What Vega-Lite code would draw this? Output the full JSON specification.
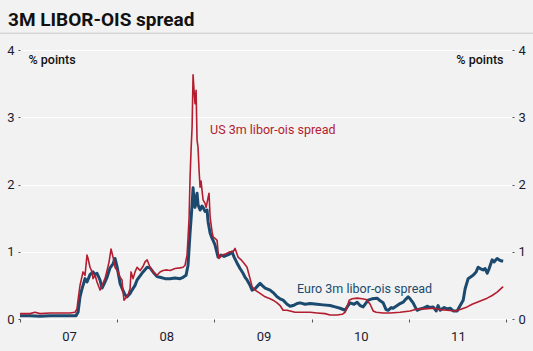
{
  "$schema": "https://vega.github.io/schema/vega-lite/v6.json",
  "width": 492,
  "height": 269,
  "autosize": {"type": "none"},
  "padding": {"left": 20, "top": 50, "right": 21, "bottom": 32},
  "background": "#f2f2f2",
  "config": {"view": {"stroke": null}, "font": "Roboto"},
  "title": {"text": "3M LIBOR-OIS spread", "anchor": "start", "frame": "group", "dx": -12, "offset": 3, "fontSize": 19, "font": "Roboto", "fontWeight": 700, "color": "#111111"},
  "datasets": {
    "euro": [
      {"t":2007.000,"v":0.05},{"t":2007.103,"v":0.05},{"t":2007.206,"v":0.04},{"t":2007.309,"v":0.05},{"t":2007.412,"v":0.05},{"t":2007.514,"v":0.05},{"t":2007.576,"v":0.05},{"t":2007.597,"v":0.1},{"t":2007.617,"v":0.33},{"t":2007.638,"v":0.45},{"t":2007.669,"v":0.6},{"t":2007.689,"v":0.55},{"t":2007.720,"v":0.66},{"t":2007.751,"v":0.7},{"t":2007.772,"v":0.66},{"t":2007.792,"v":0.68},{"t":2007.823,"v":0.58},{"t":2007.844,"v":0.46},{"t":2007.864,"v":0.52},{"t":2007.895,"v":0.62},{"t":2007.926,"v":0.76},{"t":2007.957,"v":0.82},{"t":2007.977,"v":0.9},{"t":2007.998,"v":0.78},
      {"t":2008.029,"v":0.53},{"t":2008.060,"v":0.42},{"t":2008.080,"v":0.36},{"t":2008.101,"v":0.33},{"t":2008.132,"v":0.38},{"t":2008.152,"v":0.43},{"t":2008.183,"v":0.5},{"t":2008.204,"v":0.58},{"t":2008.235,"v":0.64},{"t":2008.265,"v":0.7},{"t":2008.307,"v":0.77},{"t":2008.337,"v":0.76},{"t":2008.368,"v":0.7},{"t":2008.409,"v":0.63},{"t":2008.440,"v":0.62},{"t":2008.492,"v":0.6},{"t":2008.543,"v":0.6},{"t":2008.595,"v":0.61},{"t":2008.646,"v":0.6},{"t":2008.677,"v":0.62},{"t":2008.708,"v":0.65},{"t":2008.728,"v":0.8},{"t":2008.749,"v":1.28},{"t":2008.770,"v":1.7},{"t":2008.780,"v":1.95},{"t":2008.790,"v":1.75},{"t":2008.800,"v":1.66},{"t":2008.811,"v":1.8},{"t":2008.821,"v":1.87},{"t":2008.831,"v":1.7},{"t":2008.852,"v":1.62},{"t":2008.872,"v":1.68},{"t":2008.883,"v":1.66},{"t":2008.903,"v":1.6},{"t":2008.924,"v":1.62},{"t":2008.934,"v":1.45},{"t":2008.955,"v":1.28},{"t":2008.975,"v":1.2},{"t":2008.986,"v":1.17},
      {"t":2009.006,"v":1.1},{"t":2009.037,"v":0.92},{"t":2009.068,"v":0.95},{"t":2009.099,"v":0.93},{"t":2009.130,"v":0.95},{"t":2009.160,"v":0.97},{"t":2009.181,"v":1.0},{"t":2009.202,"v":0.92},{"t":2009.233,"v":0.83},{"t":2009.263,"v":0.75},{"t":2009.294,"v":0.68},{"t":2009.315,"v":0.62},{"t":2009.335,"v":0.58},{"t":2009.366,"v":0.5},{"t":2009.387,"v":0.43},{"t":2009.418,"v":0.45},{"t":2009.449,"v":0.5},{"t":2009.469,"v":0.53},{"t":2009.490,"v":0.5},{"t":2009.521,"v":0.46},{"t":2009.572,"v":0.43},{"t":2009.613,"v":0.38},{"t":2009.644,"v":0.33},{"t":2009.675,"v":0.3},{"t":2009.706,"v":0.28},{"t":2009.747,"v":0.22},{"t":2009.778,"v":0.19},{"t":2009.809,"v":0.2},{"t":2009.850,"v":0.23},{"t":2009.881,"v":0.24},{"t":2009.932,"v":0.22},{"t":2009.984,"v":0.23},
      {"t":2010.056,"v":0.22},{"t":2010.117,"v":0.21},{"t":2010.189,"v":0.2},{"t":2010.241,"v":0.18},{"t":2010.292,"v":0.16},{"t":2010.344,"v":0.13},{"t":2010.374,"v":0.2},{"t":2010.395,"v":0.24},{"t":2010.436,"v":0.22},{"t":2010.467,"v":0.25},{"t":2010.498,"v":0.2},{"t":2010.529,"v":0.18},{"t":2010.560,"v":0.24},{"t":2010.580,"v":0.28},{"t":2010.621,"v":0.3},{"t":2010.673,"v":0.31},{"t":2010.704,"v":0.27},{"t":2010.735,"v":0.24},{"t":2010.765,"v":0.14},{"t":2010.786,"v":0.13},{"t":2010.817,"v":0.17},{"t":2010.837,"v":0.16},{"t":2010.879,"v":0.2},{"t":2010.909,"v":0.23},{"t":2010.940,"v":0.25},{"t":2010.971,"v":0.3},{"t":2010.992,"v":0.33},
      {"t":2011.012,"v":0.3},{"t":2011.043,"v":0.24},{"t":2011.064,"v":0.18},{"t":2011.084,"v":0.13},{"t":2011.115,"v":0.15},{"t":2011.146,"v":0.16},{"t":2011.187,"v":0.19},{"t":2011.218,"v":0.17},{"t":2011.249,"v":0.18},{"t":2011.280,"v":0.12},{"t":2011.300,"v":0.2},{"t":2011.321,"v":0.13},{"t":2011.362,"v":0.17},{"t":2011.393,"v":0.15},{"t":2011.424,"v":0.16},{"t":2011.455,"v":0.12},{"t":2011.496,"v":0.12},{"t":2011.527,"v":0.2},{"t":2011.558,"v":0.28},{"t":2011.578,"v":0.45},{"t":2011.609,"v":0.6},{"t":2011.630,"v":0.62},{"t":2011.660,"v":0.65},{"t":2011.691,"v":0.7},{"t":2011.712,"v":0.77},{"t":2011.733,"v":0.75},{"t":2011.763,"v":0.73},{"t":2011.784,"v":0.75},{"t":2011.805,"v":0.68},{"t":2011.825,"v":0.75},{"t":2011.856,"v":0.88},{"t":2011.877,"v":0.85},{"t":2011.907,"v":0.9},{"t":2011.938,"v":0.87},{"t":2011.969,"v":0.86}
    ],
    "us": [
      {"t":2007.000,"v":0.08},{"t":2007.103,"v":0.08},{"t":2007.154,"v":0.1},{"t":2007.206,"v":0.08},{"t":2007.309,"v":0.09},{"t":2007.412,"v":0.09},{"t":2007.514,"v":0.09},{"t":2007.566,"v":0.1},{"t":2007.586,"v":0.15},{"t":2007.597,"v":0.28},{"t":2007.617,"v":0.5},{"t":2007.648,"v":0.7},{"t":2007.669,"v":0.65},{"t":2007.689,"v":0.95},{"t":2007.700,"v":0.9},{"t":2007.720,"v":0.77},{"t":2007.741,"v":0.7},{"t":2007.751,"v":0.6},{"t":2007.772,"v":0.65},{"t":2007.792,"v":0.55},{"t":2007.823,"v":0.43},{"t":2007.844,"v":0.5},{"t":2007.874,"v":0.6},{"t":2007.895,"v":0.72},{"t":2007.916,"v":0.85},{"t":2007.936,"v":1.04},{"t":2007.957,"v":0.92},{"t":2007.977,"v":0.77},
      {"t":2008.008,"v":0.7},{"t":2008.029,"v":0.62},{"t":2008.049,"v":0.58},{"t":2008.060,"v":0.4},{"t":2008.070,"v":0.28},{"t":2008.091,"v":0.32},{"t":2008.111,"v":0.36},{"t":2008.132,"v":0.45},{"t":2008.142,"v":0.7},{"t":2008.163,"v":0.6},{"t":2008.183,"v":0.7},{"t":2008.204,"v":0.77},{"t":2008.235,"v":0.72},{"t":2008.265,"v":0.78},{"t":2008.286,"v":0.85},{"t":2008.307,"v":0.88},{"t":2008.337,"v":0.77},{"t":2008.368,"v":0.7},{"t":2008.409,"v":0.65},{"t":2008.440,"v":0.7},{"t":2008.471,"v":0.72},{"t":2008.512,"v":0.73},{"t":2008.543,"v":0.72},{"t":2008.595,"v":0.75},{"t":2008.646,"v":0.76},{"t":2008.677,"v":0.77},{"t":2008.698,"v":0.8},{"t":2008.708,"v":0.88},{"t":2008.718,"v":0.95},{"t":2008.728,"v":1.2},{"t":2008.739,"v":1.5},{"t":2008.749,"v":2.1},{"t":2008.759,"v":2.5},{"t":2008.770,"v":2.86},{"t":2008.780,"v":3.63},{"t":2008.790,"v":3.4},{"t":2008.800,"v":3.2},{"t":2008.811,"v":3.4},{"t":2008.821,"v":2.66},{"t":2008.831,"v":2.55},{"t":2008.842,"v":2.2},{"t":2008.852,"v":1.96},{"t":2008.862,"v":2.05},{"t":2008.883,"v":1.77},{"t":2008.903,"v":1.72},{"t":2008.914,"v":1.66},{"t":2008.934,"v":1.8},{"t":2008.944,"v":1.87},{"t":2008.955,"v":1.52},{"t":2008.975,"v":1.3},{"t":2008.986,"v":1.22},
      {"t":2009.006,"v":1.2},{"t":2009.027,"v":1.17},{"t":2009.037,"v":1.0},{"t":2009.047,"v":0.9},{"t":2009.078,"v":0.95},{"t":2009.119,"v":0.97},{"t":2009.160,"v":1.0},{"t":2009.191,"v":1.0},{"t":2009.212,"v":1.05},{"t":2009.243,"v":0.92},{"t":2009.274,"v":0.88},{"t":2009.304,"v":0.83},{"t":2009.335,"v":0.77},{"t":2009.366,"v":0.6},{"t":2009.387,"v":0.48},{"t":2009.418,"v":0.43},{"t":2009.469,"v":0.38},{"t":2009.521,"v":0.33},{"t":2009.572,"v":0.3},{"t":2009.603,"v":0.28},{"t":2009.644,"v":0.24},{"t":2009.675,"v":0.2},{"t":2009.706,"v":0.13},{"t":2009.747,"v":0.13},{"t":2009.778,"v":0.12},{"t":2009.829,"v":0.1},{"t":2009.881,"v":0.1},{"t":2009.984,"v":0.1},
      {"t":2010.056,"v":0.09},{"t":2010.138,"v":0.08},{"t":2010.189,"v":0.06},{"t":2010.261,"v":0.06},{"t":2010.313,"v":0.07},{"t":2010.344,"v":0.1},{"t":2010.364,"v":0.18},{"t":2010.385,"v":0.28},{"t":2010.416,"v":0.3},{"t":2010.467,"v":0.31},{"t":2010.519,"v":0.3},{"t":2010.560,"v":0.29},{"t":2010.580,"v":0.26},{"t":2010.601,"v":0.22},{"t":2010.632,"v":0.12},{"t":2010.663,"v":0.1},{"t":2010.735,"v":0.09},{"t":2010.807,"v":0.09},{"t":2010.909,"v":0.1},
      {"t":2011.012,"v":0.12},{"t":2011.084,"v":0.15},{"t":2011.167,"v":0.15},{"t":2011.249,"v":0.16},{"t":2011.321,"v":0.14},{"t":2011.393,"v":0.13},{"t":2011.475,"v":0.12},{"t":2011.527,"v":0.14},{"t":2011.599,"v":0.18},{"t":2011.650,"v":0.22},{"t":2011.702,"v":0.25},{"t":2011.753,"v":0.28},{"t":2011.805,"v":0.31},{"t":2011.856,"v":0.35},{"t":2011.907,"v":0.4},{"t":2011.938,"v":0.44},{"t":2011.969,"v":0.48}
    ]
  },
  "layer": [
    {
      "data": {"values": [{}]},
      "mark": {"type": "rule", "clip": false, "color": "#c8c8c8", "strokeWidth": 1},
      "encoding": {"x": {"datum": 2006.79, "type": "quantitative", "axis": null}, "x2": {"datum": 2012.28}, "y": {"datum": 4.25, "type": "quantitative", "axis": null}}
    },
    {
      "data": {"name": "euro"},
      "mark": {"type": "line", "color": "#1c4a6e", "strokeWidth": 3, "strokeJoin": "round"},
      "encoding": {
        "x": {"field": "t", "type": "quantitative", "scale": {"domain": [2007, 2012.06], "zero": false, "nice": false},
          "axis": {"values": [2007, 2008, 2009, 2010, 2011, 2012], "grid": false, "domain": false, "tickSize": 3, "tickColor": "#555555", "labelFlush": false, "labelOffset": 49, "labelPadding": 8, "labelFontSize": 13, "labelFont": "Roboto", "labelColor": "#1c1c30", "labelExpr": "datum.value < 2012 ? substring(toString(datum.value), 2, 4) : ''", "title": null}},
        "y": {"field": "v", "type": "quantitative", "scale": {"domain": [0, 4], "nice": false},
          "axis": {"orient": "left", "values": [0, 1, 2, 3, 4], "grid": true, "gridColor": "#ffffff", "gridWidth": 1, "domain": false, "tickSize": 2, "tickColor": "#555555", "labelPadding": 4, "labelFontSize": 13, "labelFont": "Roboto", "labelColor": "#1c1c30",
            "title": "% points", "titleAngle": 0, "titleAlign": "left", "titleBaseline": "middle", "titleX": 8, "titleY": 9, "titleFontSize": 12.5, "titleFont": "Roboto", "titleFontWeight": 500, "titleColor": "#111111"}}
      }
    },
    {
      "data": {"name": "us"},
      "mark": {"type": "line", "color": "#b31d2f", "strokeWidth": 1.6, "strokeJoin": "round"},
      "encoding": {
        "x": {"field": "t", "type": "quantitative", "axis": null},
        "y": {"field": "v", "type": "quantitative",
          "axis": {"orient": "right", "values": [0, 1, 2, 3, 4], "grid": false, "domain": false, "tickSize": 2, "tickColor": "#555555", "labelPadding": 4, "labelFontSize": 13, "labelFont": "Roboto", "labelColor": "#1c1c30",
            "title": "% points", "titleAngle": 0, "titleAlign": "right", "titleBaseline": "middle", "titleX": -9, "titleY": 9, "titleFontSize": 12.5, "titleFont": "Roboto", "titleFontWeight": 500, "titleColor": "#111111"}}
      }
    },
    {
      "data": {"values": [{}]},
      "mark": {"type": "text", "text": "US 3m libor-ois spread", "color": "#b31d2f", "fontSize": 12.5, "font": "Roboto", "align": "left", "baseline": "middle"},
      "encoding": {"x": {"datum": 2008.955, "type": "quantitative", "axis": null}, "y": {"datum": 2.81, "type": "quantitative", "axis": null}}
    },
    {
      "data": {"values": [{}]},
      "mark": {"type": "text", "text": "Euro 3m libor-ois spread", "color": "#1c4a6e", "fontSize": 12.5, "font": "Roboto", "align": "left", "baseline": "middle"},
      "encoding": {"x": {"datum": 2009.85, "type": "quantitative", "axis": null}, "y": {"datum": 0.45, "type": "quantitative", "axis": null}}
    }
  ],
  "resolve": {"axis": {"x": "independent", "y": "independent"}}
}
